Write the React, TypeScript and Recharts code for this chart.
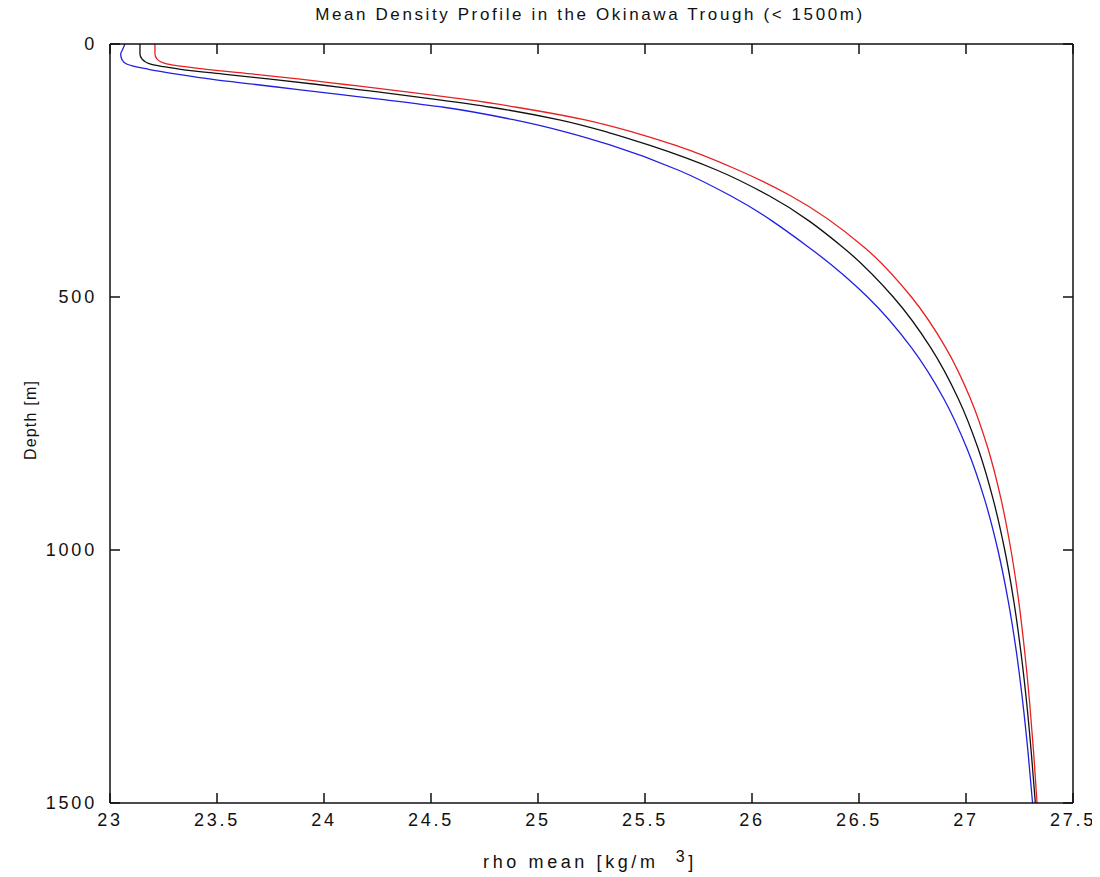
import { LineChart, Line, XAxis, YAxis } from "recharts";

// depth levels in metres
const depth = [0, 10, 20, 30, 40, 50, 60, 70, 80, 90, 100, 110, 125, 150, 175, 200, 250, 300, 400, 500, 600, 700, 800, 900, 1000, 1100, 1200, 1300, 1400, 1500];

// mean density profiles (sigma, kg/m^3)
const rhoRed = [23.21, 23.21, 23.21, 23.22, 23.27, 23.45, 23.68, 23.90, 24.10, 24.30, 24.49, 24.67, 24.90, 25.22, 25.45, 25.64, 25.94, 26.18, 26.52, 26.745, 26.905, 27.02, 27.103, 27.164, 27.21, 27.246, 27.274, 27.297, 27.316, 27.332];
const rhoBlack = [23.14, 23.14, 23.14, 23.15, 23.19, 23.33, 23.54, 23.76, 23.97, 24.16, 24.35, 24.53, 24.78, 25.10, 25.33, 25.52, 25.84, 26.08, 26.42, 26.66, 26.835, 26.963, 27.057, 27.127, 27.181, 27.223, 27.256, 27.283, 27.305, 27.324];
const rhoBlue = [23.07, 23.06, 23.05, 23.055, 23.08, 23.18, 23.32, 23.48, 23.68, 23.88, 24.08, 24.28, 24.56, 24.89, 25.14, 25.34, 25.66, 25.90, 26.26, 26.54, 26.745, 26.895, 27.005, 27.087, 27.149, 27.197, 27.235, 27.265, 27.29, 27.311];

const xTicks = [23, 23.5, 24, 24.5, 25, 25.5, 26, 26.5, 27, 27.5];
const yTicks = [0, 500, 1000, 1500];

const data = depth.map((d, i) => ({
  depth: d,
  red: rhoRed[i],
  black: rhoBlack[i],
  blue: rhoBlue[i],
}));

const font = "'Liberation Sans', Arial, sans-serif";
const ink = "#111";
const axisStroke = { stroke: ink, strokeWidth: 1.5 };
const TICK = 10;

// matlab style: tick marks point into the plot box
const BottomTick = ({ x, y, payload }: any) => {
  const axisY = y - 10;
  return (
    <g>
      <line x1={x} x2={x} y1={axisY} y2={axisY - TICK} stroke={ink} strokeWidth={1.5} />
      <text x={x} y={axisY + 23} textAnchor="middle" fill={ink} fontSize={18} fontFamily={font} letterSpacing={2.8}>
        {payload.value}
      </text>
    </g>
  );
};

const LeftTick = ({ x, y, payload }: any) => {
  const axisX = x + 13;
  return (
    <g>
      <line x1={axisX} x2={axisX + TICK} y1={y} y2={y} stroke={ink} strokeWidth={1.5} />
      <text x={x} y={y} dy="0.35em" textAnchor="end" fill={ink} fontSize={18} fontFamily={font} letterSpacing={2.8}>
        {payload.value}
      </text>
    </g>
  );
};

const TopTick = ({ x, y }: any) => (
  <line x1={x} x2={x} y1={y} y2={y + TICK} stroke={ink} strokeWidth={1.5} />
);

const RightTick = ({ x, y }: any) => (
  <line x1={x} x2={x - TICK} y1={y} y2={y} stroke={ink} strokeWidth={1.5} />
);

export default function App() {
  return (
    <div style={{ position: "relative", width: 1092, height: 869, background: "#fff" }}>
      <div
        style={{
          position: "absolute", left: 0, width: 1164, top: -3, textAlign: "center",
          fontFamily: font, fontSize: 17, letterSpacing: 2.6, color: ink, whiteSpace: "nowrap",
        }}
      >
        Mean Density Profile in the Okinawa Trough (&lt; 1500m)
      </div>
      <div
        style={{
          position: "absolute", left: 23, top: 412, transform: "translate(-50%, -50%) rotate(-90deg)",
          fontFamily: font, fontSize: 16, letterSpacing: 1.2, color: ink, whiteSpace: "nowrap",
        }}
      >
        Depth [m]
      </div>
      <div
        style={{
          position: "absolute", left: 582, top: 852, transform: "translate(-50%, -50%)",
          fontFamily: font, fontSize: 18, letterSpacing: 3.6, color: ink, whiteSpace: "nowrap",
        }}
      >
        rho mean [kg/m&nbsp; <sup style={{ fontSize: 16, verticalAlign: 6 }}>3</sup>]
      </div>
      <LineChart
        width={1092}
        height={869}
        data={data}
        layout="vertical"
        margin={{ top: 35, right: 26, bottom: 44, left: 42 }}
      >
        <XAxis
          xAxisId="bottom"
          type="number"
          domain={[23, 27.5]}
          ticks={xTicks}
          height={30}
          tickSize={0}
          tickMargin={10}
          tick={<BottomTick />}
          tickLine={false}
          axisLine={axisStroke}
          allowDataOverflow
        />
        <XAxis
          xAxisId="top"
          orientation="top"
          type="number"
          domain={[23, 27.5]}
          ticks={xTicks}
          height={1}
          tickSize={0}
          tickMargin={0}
          tick={<TopTick />}
          tickLine={false}
          axisLine={axisStroke}
          allowDataOverflow
        />
        <YAxis
          yAxisId="left"
          dataKey="depth"
          type="number"
          domain={[0, 1500]}
          ticks={yTicks}
          width={60}
          tickSize={0}
          tickMargin={13}
          tick={<LeftTick />}
          tickLine={false}
          axisLine={axisStroke}
          allowDataOverflow
        />
        <YAxis
          yAxisId="right"
          orientation="right"
          dataKey="depth"
          type="number"
          domain={[0, 1500]}
          ticks={yTicks}
          width={1}
          tickSize={0}
          tickMargin={0}
          tick={<RightTick />}
          tickLine={false}
          axisLine={axisStroke}
          allowDataOverflow
        />
        <Line xAxisId="bottom" yAxisId="left" dataKey="red" type="monotone" stroke="#e82020" strokeWidth={1.3} dot={false} isAnimationActive={false} />
        <Line xAxisId="bottom" yAxisId="left" dataKey="black" type="monotone" stroke="#111111" strokeWidth={1.3} dot={false} isAnimationActive={false} />
        <Line xAxisId="bottom" yAxisId="left" dataKey="blue" type="monotone" stroke="#2020e0" strokeWidth={1.3} dot={false} isAnimationActive={false} />
        <Line xAxisId="top" yAxisId="right" dataKey="black" stroke="none" dot={false} isAnimationActive={false} />
      </LineChart>
    </div>
  );
}
